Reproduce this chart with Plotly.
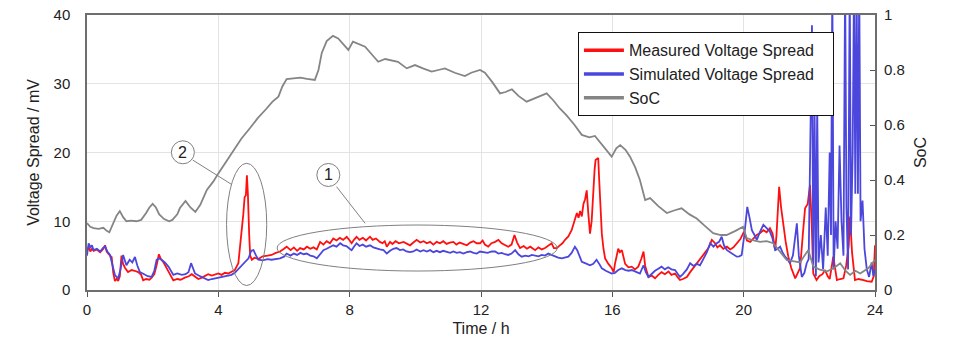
import plotly.graph_objects as go

# ---------------- data ----------------
t_meas = [0.0,0.05,0.1,0.15,0.2,0.3,0.4,0.5,0.55,0.6,0.7,0.75,0.8,0.85,0.9,0.95,1.0,1.05,1.1,1.16,1.25,1.36,1.45,1.56,1.65,1.71,1.8,1.9,1.97,2.05,2.12,2.19,2.25,2.32,2.4,2.48,2.55,2.63,2.75,2.85,2.98,3.1,3.19,3.3,3.39,3.5,3.6,3.69,3.8,3.9,4.0,4.1,4.2,4.3,4.4,4.5,4.61,4.66,4.71,4.76,4.8,4.84,4.87,4.9,4.94,4.97,5.02,5.1,5.22,5.35,5.5,5.62,5.75,5.88,6.0,6.08,6.2,6.3,6.4,6.49,6.6,6.7,6.8,6.9,7.0,7.1,7.2,7.3,7.4,7.5,7.6,7.7,7.8,7.91,8.0,8.06,8.13,8.21,8.3,8.4,8.5,8.62,8.7,8.8,8.92,9.0,9.07,9.13,9.23,9.3,9.4,9.5,9.64,9.75,9.84,9.94,10.04,10.15,10.25,10.35,10.45,10.55,10.65,10.75,10.85,10.95,11.05,11.16,11.25,11.35,11.46,11.57,11.67,11.77,11.87,11.97,12.05,12.12,12.22,12.32,12.43,12.53,12.63,12.73,12.83,12.93,13.02,13.1,13.19,13.3,13.4,13.5,13.65,13.75,13.85,13.95,14.05,14.15,14.22,14.31,14.4,14.48,14.56,14.66,14.76,14.84,14.92,14.97,15.02,15.07,15.12,15.17,15.22,15.27,15.32,15.37,15.42,15.46,15.49,15.53,15.57,15.6,15.63,15.68,15.73,15.78,15.88,15.98,16.04,16.08,16.18,16.23,16.29,16.34,16.39,16.49,16.59,16.69,16.79,16.88,16.95,17.0,17.1,17.2,17.3,17.4,17.5,17.6,17.71,17.8,17.91,18.0,18.06,18.15,18.27,18.37,18.47,18.57,18.67,18.77,18.88,18.95,19.03,19.13,19.2,19.28,19.38,19.49,19.59,19.69,19.79,19.9,20.01,20.1,20.2,20.3,20.4,20.5,20.6,20.7,20.8,20.88,20.96,21.0,21.08,21.14,21.21,21.28,21.36,21.45,21.57,21.65,21.72,21.8,21.87,21.95,22.02,22.07,22.12,22.22,22.3,22.4,22.48,22.56,22.62,22.73,22.78,22.84,22.94,23.04,23.12,23.2,23.24,23.3,23.39,23.5,23.65,23.75,23.9,23.96,24.0]
v_meas = [5.8,6.2,5.6,6.0,5.7,5.9,5.5,6.0,6.5,5.6,5.0,4.8,2.5,1.3,1.6,1.3,2.0,5.0,3.8,3.2,2.6,2.9,2.8,2.6,2.2,1.4,1.6,1.5,1.8,2.3,3.6,5.2,4.5,4.1,3.4,2.7,2.0,1.4,1.6,1.5,1.8,2.0,2.3,1.9,1.6,1.8,2.1,2.3,2.1,2.3,2.4,2.2,2.5,2.4,2.7,2.9,3.9,6.0,8.3,11.0,13.5,13.8,16.7,14.0,8.0,5.0,4.4,4.7,4.5,4.9,5.0,5.1,5.4,5.6,6.0,6.3,5.8,6.2,5.7,6.1,5.9,6.3,6.0,6.2,5.9,7.0,6.6,7.1,6.8,7.5,7.2,7.6,7.3,7.75,7.2,6.8,7.3,7.75,7.3,7.6,7.2,7.75,7.3,7.5,7.0,6.8,7.1,6.3,7.0,6.7,7.1,6.8,7.0,6.7,6.5,6.9,7.3,6.9,7.1,6.8,7.0,6.6,7.0,6.8,7.1,6.7,6.9,7.0,6.6,6.9,6.7,6.5,6.9,7.1,6.8,6.8,7.2,6.6,6.3,6.8,7.0,7.3,6.8,6.5,6.3,6.6,8.0,6.9,6.1,6.4,6.0,6.3,5.8,6.2,5.9,6.1,6.5,6.8,6.1,6.1,6.5,6.8,7.3,7.8,8.7,10.0,11.2,10.5,11.5,10.7,12.5,13.2,14.5,11.0,8.2,10.0,15.0,17.5,18.9,19.0,19.2,16.0,12.0,8.2,6.0,4.6,3.8,3.2,2.6,3.8,6.0,5.5,5.8,4.5,3.8,3.3,3.4,3.0,3.4,4.5,5.6,3.5,1.9,2.1,1.7,2.2,2.6,2.3,2.7,2.2,2.4,1.8,1.45,1.6,1.9,2.6,3.2,3.9,4.5,5.0,5.8,6.3,7.3,6.8,6.2,6.5,6.0,6.3,5.9,6.2,6.8,7.4,8.5,7.2,7.0,7.5,8.0,8.3,8.7,8.4,9.0,8.2,5.8,8.0,15.0,12.0,9.2,7.0,4.85,3.2,1.7,2.5,3.2,8.0,11.9,12.5,15.3,10.0,2.4,1.45,2.0,2.3,2.9,2.0,1.6,4.85,3.0,1.45,1.6,1.7,3.5,6.5,10.7,5.5,1.45,1.6,1.45,1.3,1.2,2.0,6.5]

t_sim = [0.0,0.05,0.1,0.15,0.2,0.3,0.4,0.5,0.55,0.62,0.7,0.78,0.85,0.9,0.95,1.02,1.1,1.2,1.3,1.38,1.46,1.53,1.61,1.7,1.76,1.85,1.97,2.05,2.12,2.2,2.27,2.37,2.48,2.55,2.63,2.75,2.89,3.0,3.09,3.17,3.23,3.29,3.4,3.5,3.6,3.69,3.8,3.9,4.0,4.1,4.2,4.3,4.4,4.5,4.6,4.71,4.8,4.92,5.0,5.07,5.15,5.22,5.35,5.5,5.62,5.75,5.88,6.0,6.08,6.2,6.3,6.4,6.5,6.6,6.69,6.8,6.9,7.0,7.1,7.2,7.3,7.4,7.5,7.6,7.71,7.8,7.9,8.0,8.06,8.13,8.21,8.3,8.4,8.5,8.62,8.72,8.82,8.92,9.03,9.13,9.23,9.33,9.43,9.53,9.63,9.73,9.84,9.94,10.04,10.15,10.25,10.35,10.45,10.55,10.65,10.75,10.85,10.96,11.06,11.16,11.26,11.36,11.46,11.57,11.67,11.77,11.87,11.97,12.1,12.2,12.33,12.43,12.53,12.63,12.73,12.83,12.93,13.04,13.14,13.24,13.35,13.45,13.55,13.65,13.75,13.85,13.95,14.05,14.15,14.25,14.35,14.46,14.56,14.66,14.76,14.86,14.93,15.0,15.07,15.17,15.27,15.32,15.42,15.52,15.6,15.68,15.8,15.9,15.98,16.08,16.18,16.29,16.4,16.5,16.6,16.69,16.79,16.84,16.95,17.02,17.1,17.2,17.3,17.4,17.5,17.6,17.7,17.8,17.91,18.0,18.06,18.15,18.27,18.37,18.47,18.57,18.67,18.77,18.88,18.98,19.08,19.18,19.25,19.33,19.4,19.49,19.59,19.69,19.79,19.87,19.94,20.02,20.11,20.18,20.25,20.33,20.4,20.5,20.6,20.7,20.8,20.88,20.96,21.04,21.11,21.18,21.26,21.33,21.41,21.5,21.58,21.62,21.68,21.77,21.85,21.92,21.98,22.03,22.08,22.12,22.16,22.2,22.24,22.28,22.35,22.42,22.5,22.56,22.62,22.66,22.7,22.74,22.8,22.86,22.92,22.98,23.04,23.09,23.13,23.18,23.23,23.27,23.32,23.36,23.4,23.44,23.48,23.52,23.56,23.62,23.68,23.75,23.82,23.9,23.95,24.0]
v_sim = [5.0,6.8,6.2,6.5,5.8,6.0,5.6,6.2,6.3,5.6,5.1,3.5,2.2,1.9,1.7,3.0,5.1,3.6,4.4,4.0,4.8,3.6,2.6,2.4,2.2,2.0,1.9,2.8,4.4,4.6,4.4,4.0,3.4,2.8,2.2,2.4,2.2,2.3,2.6,3.9,3.0,2.4,2.1,1.9,1.6,1.45,1.6,1.7,1.7,1.9,2.0,2.1,2.2,2.5,3.0,3.6,4.0,4.6,5.7,5.8,5.0,4.4,4.3,4.5,4.4,4.5,4.6,4.85,5.3,5.0,5.3,5.1,5.4,5.2,5.3,5.0,4.9,4.6,5.2,5.8,6.0,6.2,6.5,6.3,6.8,6.5,6.4,6.0,5.8,6.3,6.8,6.4,6.6,6.3,6.5,6.2,6.0,5.9,5.8,5.3,5.7,6.0,6.1,5.8,5.9,5.6,5.5,5.6,5.9,5.6,5.8,5.6,5.8,5.5,5.7,5.5,5.7,5.6,5.4,5.6,5.4,5.5,5.3,5.5,5.6,5.4,5.3,5.6,5.5,5.4,5.6,5.6,5.3,5.4,5.2,5.1,5.3,5.8,5.2,4.85,5.0,4.9,5.1,5.0,4.9,5.1,5.0,5.3,5.1,5.0,4.7,4.6,4.7,4.85,5.4,6.3,5.8,4.8,4.1,3.9,3.7,3.6,3.8,4.4,3.8,3.15,2.8,2.6,2.4,2.5,2.9,3.15,2.9,2.8,2.9,2.7,2.5,2.4,3.6,2.6,1.9,2.4,2.8,3.1,3.4,3.0,3.3,3.0,2.9,2.3,1.9,2.3,3.0,3.9,3.5,3.8,3.6,4.5,5.5,6.8,6.3,6.8,7.0,7.75,6.5,5.8,5.5,5.2,4.85,4.9,5.1,8.0,12.1,10.5,8.7,8.0,7.3,8.5,9.5,9.0,8.5,7.5,5.8,6.0,6.3,5.5,4.85,4.5,3.9,5.0,8.0,9.7,5.0,1.9,2.5,3.9,4.5,20.0,38.5,3.0,26.0,2.0,27.0,4.0,8.0,3.0,12.0,5.0,20.0,8.0,45.0,3.0,10.0,6.0,21.0,10.0,5.0,45.0,12.0,3.0,45.0,8.0,20.0,45.0,14.0,45.0,14.0,45.0,10.0,13.0,6.0,3.0,1.9,4.0,2.0,3.0]

t_soc = [0.0,0.1,0.2,0.35,0.5,0.6,0.68,0.8,0.9,1.0,1.1,1.2,1.35,1.5,1.65,1.8,1.9,2.0,2.1,2.2,2.35,2.5,2.6,2.75,2.83,3.0,3.15,3.3,3.45,3.65,3.85,4.0,4.2,4.46,4.7,4.96,5.2,5.47,5.65,5.83,5.95,6.08,6.3,6.5,6.7,6.94,7.05,7.15,7.3,7.49,7.65,7.8,7.96,8.1,8.3,8.47,8.65,8.87,9.08,9.25,9.47,9.74,9.99,10.25,10.5,10.7,10.9,11.2,11.51,11.7,11.97,12.12,12.35,12.58,12.75,12.94,13.15,13.39,13.6,13.8,14.0,14.2,14.4,14.6,14.85,15.07,15.3,15.47,15.7,15.98,16.12,16.24,16.4,16.54,16.7,16.84,17.0,17.15,17.4,17.66,17.9,18.11,18.35,18.57,18.8,19.07,19.3,19.48,19.75,19.98,20.09,20.3,20.5,20.7,20.9,21.1,21.31,21.5,21.72,21.85,21.97,22.12,22.3,22.53,22.75,22.94,23.1,23.24,23.4,23.55,23.8,24.0]
soc = [0.243,0.23,0.225,0.222,0.226,0.215,0.21,0.245,0.27,0.287,0.265,0.25,0.252,0.25,0.255,0.28,0.3,0.313,0.3,0.275,0.258,0.25,0.255,0.275,0.298,0.324,0.3,0.284,0.31,0.364,0.395,0.424,0.46,0.509,0.55,0.588,0.625,0.66,0.685,0.703,0.74,0.767,0.77,0.772,0.768,0.764,0.8,0.862,0.905,0.924,0.915,0.895,0.873,0.903,0.893,0.885,0.86,0.83,0.84,0.836,0.83,0.806,0.818,0.805,0.794,0.8,0.806,0.79,0.778,0.79,0.8,0.79,0.755,0.715,0.72,0.73,0.705,0.685,0.695,0.705,0.715,0.69,0.66,0.636,0.6,0.564,0.555,0.56,0.525,0.485,0.515,0.527,0.51,0.485,0.445,0.4,0.327,0.334,0.305,0.28,0.29,0.297,0.275,0.26,0.235,0.207,0.2,0.2,0.215,0.23,0.189,0.18,0.175,0.178,0.17,0.14,0.109,0.105,0.1,0.125,0.145,0.085,0.075,0.067,0.08,0.097,0.07,0.055,0.07,0.06,0.08,0.11]

x_ticks = [0, 4, 8, 12, 16, 20, 24]
y_ticks = [0, 10, 20, 30, 40]
soc_ticks = [0, 0.2, 0.4, 0.6, 0.8, 1.0]
soc_labels = ["0", "0.2", "0.4", "0.6", "0.8", "1"]
series_names = ["Measured Voltage Spread\u00a0\u00a0\u00a0", "Simulated Voltage Spread", "SoC"]

RED = "#ff1010"
BLUE = "#4b46dc"
GRAY = "#858585"
FONT = "Liberation Sans, Arial, sans-serif"

fig = go.Figure()
fig.add_trace(go.Scatter(x=t_meas, y=v_meas, mode="lines", line=dict(color=RED, width=1.8),
                         showlegend=False, yaxis="y"))
fig.add_trace(go.Scatter(x=t_sim, y=v_sim, mode="lines", line=dict(color=BLUE, width=1.8),
                         showlegend=False, yaxis="y"))
fig.add_trace(go.Scatter(x=t_soc, y=soc, mode="lines", line=dict(color=GRAY, width=1.8),
                         showlegend=False, yaxis="y2"))
# legend entries (thicker sample lines)
for name, col in zip(series_names, [RED, BLUE, GRAY]):
    fig.add_trace(go.Scatter(x=[None], y=[None], mode="lines", name=name,
                             line=dict(color=col, width=3.5)))

ann_col = "#808080"
shapes = [
    dict(type="circle", xref="x", yref="y", x0=5.79, x1=14.32, y0=2.76, y1=9.45,
         line=dict(color=ann_col, width=1)),
    dict(type="circle", xref="x", yref="y", x0=4.25, x1=5.474, y0=0.65, y1=18.43,
         line=dict(color=ann_col, width=1)),
    dict(type="circle", xref="x", yref="y", xsizemode="pixel", ysizemode="pixel",
         xanchor=7.35, yanchor=16.73, x0=-11.5, x1=11.5, y0=-11.5, y1=11.5,
         line=dict(color=ann_col, width=1), fillcolor="white"),
    dict(type="circle", xref="x", yref="y", xsizemode="pixel", ysizemode="pixel",
         xanchor=2.92, yanchor=20.03, x0=-11.5, x1=11.5, y0=-11.5, y1=11.5,
         line=dict(color=ann_col, width=1), fillcolor="white"),
    dict(type="line", xref="x", yref="y", x0=7.6, y0=15.03, x1=8.47, y1=9.7,
         line=dict(color=ann_col, width=1)),
    dict(type="line", xref="x", yref="y", x0=3.22, y0=18.9, x1=4.39, y1=15.4,
         line=dict(color=ann_col, width=1)),
]
annotations = [
    dict(x=7.35, y=16.73, xref="x", yref="y", text="1", showarrow=False,
         font=dict(size=16, color="#222", family=FONT)),
    dict(x=2.92, y=20.03, xref="x", yref="y", text="2", showarrow=False,
         font=dict(size=16, color="#222", family=FONT)),
]

fig.update_layout(
    width=958, height=342,
    margin=dict(l=87, r=83, t=15, b=52, autoexpand=False),
    paper_bgcolor="white", plot_bgcolor="white",
    font=dict(family=FONT, size=15, color="#222"),
    shapes=shapes, annotations=annotations,
    xaxis=dict(range=[0, 24], tickvals=x_ticks, showgrid=True, gridcolor="#e3e3e3", gridwidth=1,
               zeroline=False, showline=True, linecolor="#6e6e6e", linewidth=1.5, mirror=True,
               ticks="outside", ticklen=5, tickcolor="#555", automargin=False,
               ticklabeloverflow="allow",
               title=dict(text="Time / h", font=dict(size=16), standoff=6),
               tickfont=dict(size=15)),
    yaxis=dict(range=[0, 40], tickvals=y_ticks, showgrid=True, gridcolor="#e3e3e3", gridwidth=1,
               zeroline=False, showline=True, linecolor="#6e6e6e", linewidth=1.5, mirror=True,
               ticks="", ticklabelstandoff=12, automargin=False, ticklabeloverflow="allow",
               title=dict(text="Voltage Spread / mV", font=dict(size=16), standoff=10),
               tickfont=dict(size=15)),
    yaxis2=dict(range=[0, 1], tickvals=soc_ticks, ticktext=soc_labels, overlaying="y", side="right",
                showgrid=False, zeroline=False, showline=False, automargin=False,
                ticklabeloverflow="allow",
                ticks="inside", ticklen=5, tickcolor="#555", ticklabelstandoff=8,
                title=dict(text="SoC", font=dict(size=16), standoff=10),
                tickfont=dict(size=15)),
    legend=dict(x=0.623, y=0.937, xanchor="left", yanchor="top",
                bgcolor="white", bordercolor="#111", borderwidth=1,
                font=dict(size=16, family=FONT, color="#222"),
                tracegroupgap=0, itemwidth=40),
)

# remove the default 8px page margin so the 958x342 figure fills the window exactly
fig.write_html("out.html", config={"displayModeBar": False},
               post_script="document.body.style.margin='0';")
